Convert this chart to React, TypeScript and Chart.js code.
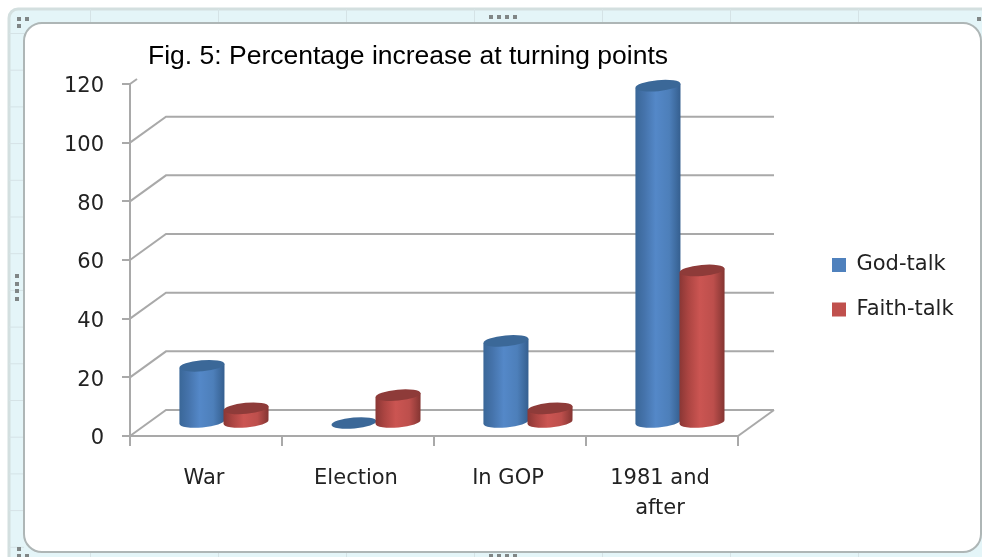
import React, { useEffect, useRef } from "react";
import { Chart, registerables } from "chart.js";

Chart.register(...registerables);

const categories = ["War", "Election", "In GOP", ["1981 and", "after"]];
const godTalk = [19.5, 0, 28, 115];
const faithTalk = [5, 9.5, 5, 52];
const seriesNames = ["God-talk", "Faith-talk"];
const seriesColors = ["#4f81bd", "#c0504d"];
const bodyShades = [
  ["#3a6798", "#4573ab", "#5488c8", "#4d7fba", "#355f8f"],
  ["#8a3735", "#ac4542", "#cb5552", "#bd4f4c", "#843532"],
];
const capShades = ["#3b6898", "#8e3b39"];
const titleText = "Fig. 5: Percentage increase at turning points";

const DEPTH_X = 36;
const DEPTH_Y = -26;
const LINE = "#a9a9a9";
const TEXT = "#222222";
const LABEL_FONT = "'DejaVu Sans'";

// Spreadsheet surround, chart card and the resize handles.
const framePlugin = {
  id: "frame",
  beforeDraw(chart: any) {
    const { ctx, width, height } = chart;
    ctx.save();
    ctx.fillStyle = "#ffffff";
    ctx.fillRect(0, 0, width, height);

    ctx.beginPath();
    ctx.roundRect(9, 9, width, height, 9);
    ctx.fillStyle = "#e4f5f8";
    ctx.fill();
    ctx.lineWidth = 3;
    ctx.strokeStyle = "#d3dfdf";
    ctx.stroke();

    ctx.strokeStyle = "#d5e3e6";
    ctx.lineWidth = 1;
    for (let x = 90; x < width; x += 128) {
      ctx.beginPath();
      ctx.moveTo(x + 0.5, 9);
      ctx.lineTo(x + 0.5, 23);
      ctx.moveTo(x + 0.5, 553);
      ctx.lineTo(x + 0.5, height);
      ctx.stroke();
    }
    for (let y = 33.5; y < height; y += 36.7) {
      ctx.beginPath();
      ctx.moveTo(9, y);
      ctx.lineTo(24, y);
      ctx.stroke();
    }

    ctx.beginPath();
    ctx.roundRect(24, 23, 957, 529, 18);
    ctx.fillStyle = "#ffffff";
    ctx.fill();
    ctx.lineWidth = 2;
    ctx.strokeStyle = "#aeb6b6";
    ctx.stroke();

    ctx.fillStyle = "#808686";
    const dots = [
      [19, 19], [27, 19], [19, 26],
      [491, 17], [499, 17], [507, 17], [515, 17],
      [979, 19],
      [17, 276], [17, 284], [17, 291], [17, 299],
      [19, 549], [19, 556], [27, 556],
      [491, 556], [499, 556], [507, 556], [515, 556],
    ];
    dots.forEach(([x, y]) => ctx.fillRect(x - 2, y - 2, 4, 4));
    ctx.restore();
  },
};

// Places the title and the legend, which sit off the plot's own grid.
const placementPlugin = {
  id: "placement",
  afterLayout(chart: any) {
    chart.titleBlock.left = 148;
    chart.titleBlock.right = 700;
    const legend = chart.legend;
    const pad = legend.options.labels.padding;
    legend.left = 832 - pad;
    legend.right = 975;
    legend.top = 254.5 - pad;
    legend.bottom = 500;
  },
};

// Back wall and floor of the 3D plot box, built from the value ticks.
const wallsPlugin = {
  id: "walls",
  beforeDatasetsDraw(chart: any) {
    const { ctx, chartArea, scales } = chart;
    const { left, right, bottom } = chartArea;
    ctx.save();
    ctx.strokeStyle = LINE;
    ctx.lineWidth = 2;
    scales.y.ticks.forEach((tick: any) => {
      const y = scales.y.getPixelForValue(tick.value);
      ctx.beginPath();
      if (y - chartArea.top < 1) {
        ctx.moveTo(left, y);
        ctx.lineTo(left + 7, y - 5);
      } else {
        ctx.moveTo(left, y);
        ctx.lineTo(left + DEPTH_X, y + DEPTH_Y);
        ctx.lineTo(right + DEPTH_X, y + DEPTH_Y);
      }
      ctx.stroke();
    });
    ctx.beginPath();
    ctx.moveTo(right, bottom);
    ctx.lineTo(right + DEPTH_X, bottom + DEPTH_Y);
    ctx.stroke();
    ctx.restore();
  },
};

function drawCylinder(ctx: any, cx: number, top: number, base: number, w: number, set: number) {
  const r = w / 2;
  const ry = 5.5;
  const tilt = -0.09;
  const dy = r * Math.sin(tilt);
  if (base - top > 0.5) {
    const grad = ctx.createLinearGradient(cx - r, 0, cx + r, 0);
    const shades = bodyShades[set];
    grad.addColorStop(0, shades[0]);
    grad.addColorStop(0.2, shades[1]);
    grad.addColorStop(0.45, shades[2]);
    grad.addColorStop(0.75, shades[3]);
    grad.addColorStop(1, shades[4]);
    ctx.beginPath();
    ctx.moveTo(cx - r, top - dy);
    ctx.lineTo(cx - r, base - dy);
    ctx.ellipse(cx, base, r, ry, tilt, Math.PI, 0, true);
    ctx.lineTo(cx + r, top + dy);
    ctx.closePath();
    ctx.fillStyle = grad;
    ctx.fill();
  }
  ctx.beginPath();
  ctx.ellipse(cx, top, r, ry, tilt, 0, Math.PI * 2);
  ctx.fillStyle = capShades[set];
  ctx.fill();
}

// Replaces the flat bars with cylinders standing mid-way into the plot box;
// each series is painted over the one before it.
const cylinderPlugin = {
  id: "cylinders",
  beforeDatasetDraw() {
    return false;
  },
  afterDatasetsDraw(chart: any) {
    const { ctx } = chart;
    ctx.save();
    chart.data.datasets.forEach((_: any, index: number) => {
      chart.getDatasetMeta(index).data.forEach((bar: any) => {
        const { x, y, base, width } = bar.getProps(["x", "y", "base", "width"], true);
        drawCylinder(ctx, x + DEPTH_X / 2, y + DEPTH_Y / 2, base + DEPTH_Y / 2, width + 1, index);
      });
    });
    ctx.restore();
  },
};

export default function App() {
  const ref = useRef<HTMLCanvasElement>(null);

  useEffect(() => {
    document.body.style.margin = "0";
    const chart = new Chart(ref.current as HTMLCanvasElement, {
      type: "bar",
      data: {
        labels: categories as any,
        datasets: [
          { label: seriesNames[0], data: godTalk, backgroundColor: seriesColors[0] },
          { label: seriesNames[1], data: faithTalk, backgroundColor: seriesColors[1] },
        ],
      },
      plugins: [framePlugin, placementPlugin, wallsPlugin, cylinderPlugin],
      options: {
        responsive: false,
        animation: false,
        layout: { padding: { left: 0, right: 244, top: 0, bottom: 0 } },
        datasets: { bar: { barPercentage: 1, categoryPercentage: 0.58 } },
        plugins: {
          tooltip: { enabled: false },
          title: {
            display: true,
            text: titleText,
            align: "start",
            color: "#000000",
            font: { family: "'Liberation Sans'", size: 26.5, weight: "normal", lineHeight: 1.2 },
            padding: { top: 41, bottom: 11.2 },
          },
          legend: {
            position: "chartArea",
            align: "start",
            labels: {
              boxWidth: 14,
              boxHeight: 14,
              padding: 23.5,
              color: TEXT,
              font: { family: LABEL_FONT, size: 21 },
            },
          },
        },
        scales: {
          x: {
            afterFit: (scale: any) => { scale.height = 121; },
            grid: { drawOnChartArea: false, color: LINE, lineWidth: 2, tickLength: 10, tickColor: LINE },
            border: { color: LINE, width: 2 },
            ticks: {
              color: TEXT,
              maxRotation: 0,
              padding: 18,
              labelOffset: -2,
              font: { family: LABEL_FONT, size: 21, lineHeight: 1.43 },
            },
          },
          y: {
            min: 0,
            max: 120,
            afterFit: (scale: any) => { scale.width = 130; },
            grid: { drawOnChartArea: false, color: LINE, lineWidth: 2, tickLength: 8, tickColor: LINE },
            border: { color: LINE, width: 2 },
            ticks: {
              stepSize: 20,
              color: TEXT,
              padding: 18,
              labelOffset: 3,
              font: { family: LABEL_FONT, size: 21 },
            },
          },
        },
      },
    } as any);
    return () => chart.destroy();
  }, []);

  return <canvas ref={ref} width={982} height={557} style={{ display: "block" }} />;
}
